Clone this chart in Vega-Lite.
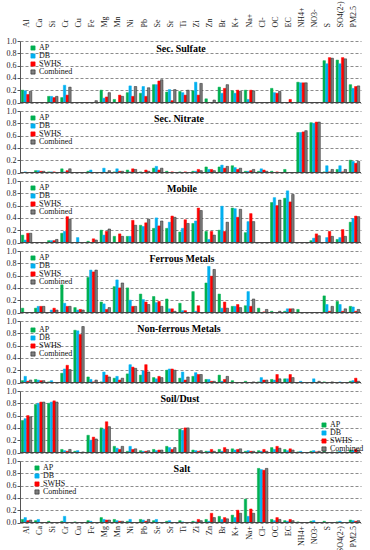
{
"$schema":"https://vega.github.io/schema/vega-lite/v6.json",
"background":"white",
"padding":{"left":6,"top":0,"right":2,"bottom":0},
"bounds":"flush",
"config":{
 "view":{"stroke":null},
 "font":"Liberation Serif",
 "text":{"font":"Liberation Serif","fontSize":10,"fontWeight":"bold","color":"black","baseline":"middle","align":"center"},
 "axisY":{"grid":true,"gridDash":[3,2],"gridColor":"#8c8c8c","domainColor":"#555","tickColor":"#555","tickSize":3,"labelFont":"Liberation Serif","labelFontSize":8,"labelPadding":1,"labelColor":"#222","format":".1f","title":null},
 "axisX":{"labelFont":"Liberation Serif","labelFontSize":8,"labelColor":"#222","ticks":false,"domain":false,"title":null},
 "legend":{"orient":"none","legendX":9,"legendY":3,"symbolType":"square","symbolSize":18,"labelFont":"Liberation Serif","labelFontSize":8,"rowPadding":-1.5,"labelOffset":2,"padding":0,"symbolStrokeWidth":0.6,"labelColor":"#111"}
},
"data":{"values":[
{"p":"Sec. Sulfate","e":"Al","AP":0.20,"DB":0.19,"SWHS":0.13,"Combined":0.18},
{"p":"Sec. Sulfate","e":"Si","AP":0.10,"DB":0.10,"SWHS":0.08,"Combined":0.10},
{"p":"Sec. Sulfate","e":"Cr","AP":0.08,"DB":0.28,"SWHS":0.12,"Combined":0.25},
{"p":"Sec. Sulfate","e":"Fe","AP":0,"DB":0,"SWHS":0,"Combined":0.03},
{"p":"Sec. Sulfate","e":"Mg","AP":0.20,"DB":0.07,"SWHS":0.09,"Combined":0.16},
{"p":"Sec. Sulfate","e":"Mn","AP":0.05,"DB":0,"SWHS":0.12,"Combined":0.10},
{"p":"Sec. Sulfate","e":"Ni","AP":0.16,"DB":0.27,"SWHS":0.10,"Combined":0.26},
{"p":"Sec. Sulfate","e":"Pb","AP":0.15,"DB":0.26,"SWHS":0.10,"Combined":0.24},
{"p":"Sec. Sulfate","e":"Se","AP":0.29,"DB":0.29,"SWHS":0.35,"Combined":0.37},
{"p":"Sec. Sulfate","e":"Sr","AP":0.17,"DB":0.21,"SWHS":0.03,"Combined":0.21},
{"p":"Sec. Sulfate","e":"Ti","AP":0.18,"DB":0.16,"SWHS":0.12,"Combined":0.20},
{"p":"Sec. Sulfate","e":"Zi","AP":0.19,"DB":0.33,"SWHS":0.12,"Combined":0.31},
{"p":"Sec. Sulfate","e":"Zn","AP":0.06,"DB":0,"SWHS":0,"Combined":0.04},
{"p":"Sec. Sulfate","e":"Br","AP":0.25,"DB":0.15,"SWHS":0.23,"Combined":0.29},
{"p":"Sec. Sulfate","e":"K+","AP":0.19,"DB":0.15,"SWHS":0.20,"Combined":0.18},
{"p":"Sec. Sulfate","e":"Na+","AP":0.20,"DB":0.05,"SWHS":0.20,"Combined":0.19},
{"p":"Sec. Sulfate","e":"OC","AP":0.23,"DB":0.16,"SWHS":0.15,"Combined":0.18},
{"p":"Sec. Sulfate","e":"EC","AP":0,"DB":0,"SWHS":0.05,"Combined":0},
{"p":"Sec. Sulfate","e":"NH4+","AP":0.33,"DB":0.32,"SWHS":0.32,"Combined":0.32},
{"p":"Sec. Sulfate","e":"S","AP":0.68,"DB":0.63,"SWHS":0.73,"Combined":0.72},
{"p":"Sec. Sulfate","e":"SO4(2-)","AP":0.69,"DB":0.63,"SWHS":0.73,"Combined":0.71},
{"p":"Sec. Sulfate","e":"PM2.5","AP":0.29,"DB":0.23,"SWHS":0.26,"Combined":0.27},

{"p":"Sec. Nitrate","e":"Al","AP":0,"DB":0.01,"SWHS":0,"Combined":0},
{"p":"Sec. Nitrate","e":"Ca","AP":0.03,"DB":0.03,"SWHS":0.02,"Combined":0.02},
{"p":"Sec. Nitrate","e":"Si","AP":0.01,"DB":0.01,"SWHS":0.01,"Combined":0},
{"p":"Sec. Nitrate","e":"Cr","AP":0.06,"DB":0.01,"SWHS":0.03,"Combined":0.06},
{"p":"Sec. Nitrate","e":"Fe","AP":0.02,"DB":0.04,"SWHS":0,"Combined":0},
{"p":"Sec. Nitrate","e":"Mg","AP":0,"DB":0.07,"SWHS":0,"Combined":0.03},
{"p":"Sec. Nitrate","e":"Mn","AP":0.01,"DB":0.06,"SWHS":0.02,"Combined":0.02},
{"p":"Sec. Nitrate","e":"Ni","AP":0.04,"DB":0.01,"SWHS":0.06,"Combined":0.05},
{"p":"Sec. Nitrate","e":"Pb","AP":0.01,"DB":0,"SWHS":0.04,"Combined":0.02},
{"p":"Sec. Nitrate","e":"Se","AP":0.07,"DB":0.10,"SWHS":0.04,"Combined":0.07},
{"p":"Sec. Nitrate","e":"Sr","AP":0.02,"DB":0,"SWHS":0.01,"Combined":0},
{"p":"Sec. Nitrate","e":"Ti","AP":0.01,"DB":0,"SWHS":0.01,"Combined":0},
{"p":"Sec. Nitrate","e":"Zi","AP":0.02,"DB":0.02,"SWHS":0.05,"Combined":0.03},
{"p":"Sec. Nitrate","e":"Zn","AP":0.09,"DB":0.05,"SWHS":0.05,"Combined":0.03},
{"p":"Sec. Nitrate","e":"Br","AP":0.09,"DB":0.12,"SWHS":0.07,"Combined":0.10},
{"p":"Sec. Nitrate","e":"K+","AP":0.11,"DB":0.08,"SWHS":0.05,"Combined":0.07},
{"p":"Sec. Nitrate","e":"Na+","AP":0.02,"DB":0.02,"SWHS":0.03,"Combined":0.05},
{"p":"Sec. Nitrate","e":"Cl-","AP":0.02,"DB":0.06,"SWHS":0.04,"Combined":0.02},
{"p":"Sec. Nitrate","e":"OC","AP":0.02,"DB":0,"SWHS":0.01,"Combined":0},
{"p":"Sec. Nitrate","e":"EC","AP":0.05,"DB":0,"SWHS":0,"Combined":0},
{"p":"Sec. Nitrate","e":"NH4+","AP":0.65,"DB":0.65,"SWHS":0.66,"Combined":0.68},
{"p":"Sec. Nitrate","e":"NO3-","AP":0.81,"DB":0.80,"SWHS":0.82,"Combined":0.82},
{"p":"Sec. Nitrate","e":"S","AP":0.01,"DB":0.11,"SWHS":0.01,"Combined":0.05},
{"p":"Sec. Nitrate","e":"SO4(2-)","AP":0.05,"DB":0.11,"SWHS":0.01,"Combined":0.05},
{"p":"Sec. Nitrate","e":"PM2.5","AP":0.20,"DB":0.18,"SWHS":0.15,"Combined":0.18},

{"p":"Mobile","e":"Al","AP":0.12,"DB":0.04,"SWHS":0.15,"Combined":0.15},
{"p":"Mobile","e":"Si","AP":0.03,"DB":0.03,"SWHS":0.03,"Combined":0.05},
{"p":"Mobile","e":"Cr","AP":0.15,"DB":0.18,"SWHS":0.42,"Combined":0.38},
{"p":"Mobile","e":"Cu","AP":0,"DB":0.08,"SWHS":0,"Combined":0},
{"p":"Mobile","e":"Fe","AP":0.02,"DB":0,"SWHS":0.06,"Combined":0.04},
{"p":"Mobile","e":"Mg","AP":0.20,"DB":0.12,"SWHS":0.18,"Combined":0.22},
{"p":"Mobile","e":"Mn","AP":0.10,"DB":0,"SWHS":0.14,"Combined":0.10},
{"p":"Mobile","e":"Ni","AP":0.10,"DB":0.10,"SWHS":0.36,"Combined":0.28},
{"p":"Mobile","e":"Pb","AP":0.28,"DB":0.26,"SWHS":0.32,"Combined":0.38},
{"p":"Mobile","e":"Se","AP":0.23,"DB":0.40,"SWHS":0.27,"Combined":0.35},
{"p":"Mobile","e":"Sr","AP":0.23,"DB":0.33,"SWHS":0.43,"Combined":0.41},
{"p":"Mobile","e":"Ti","AP":0.17,"DB":0.23,"SWHS":0.37,"Combined":0.31},
{"p":"Mobile","e":"Zi","AP":0.31,"DB":0.35,"SWHS":0.56,"Combined":0.52},
{"p":"Mobile","e":"Zn","AP":0.18,"DB":0.05,"SWHS":0.18,"Combined":0.12},
{"p":"Mobile","e":"Br","AP":0.20,"DB":0.59,"SWHS":0.18,"Combined":0.33},
{"p":"Mobile","e":"K+","AP":0.56,"DB":0.55,"SWHS":0.41,"Combined":0.54},
{"p":"Mobile","e":"Na+","AP":0.16,"DB":0.34,"SWHS":0.47,"Combined":0.34},
{"p":"Mobile","e":"OC","AP":0.65,"DB":0.73,"SWHS":0.60,"Combined":0.69},
{"p":"Mobile","e":"EC","AP":0.72,"DB":0.84,"SWHS":0.66,"Combined":0.78},
{"p":"Mobile","e":"NO3-","AP":0.03,"DB":0.07,"SWHS":0.14,"Combined":0.11},
{"p":"Mobile","e":"S","AP":0,"DB":0.08,"SWHS":0.18,"Combined":0.10},
{"p":"Mobile","e":"SO4(2-)","AP":0.05,"DB":0.08,"SWHS":0.21,"Combined":0.10},
{"p":"Mobile","e":"PM2.5","AP":0.33,"DB":0.39,"SWHS":0.43,"Combined":0.42},

{"p":"Ferrous  Metals","e":"Al","AP":0.07,"DB":0,"SWHS":0,"Combined":0},
{"p":"Ferrous  Metals","e":"Ca","AP":0.07,"DB":0.10,"SWHS":0.10,"Combined":0.10},
{"p":"Ferrous  Metals","e":"Si","AP":0,"DB":0.04,"SWHS":0.07,"Combined":0.04},
{"p":"Ferrous  Metals","e":"Cr","AP":0.45,"DB":0.15,"SWHS":0.10,"Combined":0.10},
{"p":"Ferrous  Metals","e":"Cu","AP":0.08,"DB":0.04,"SWHS":0.05,"Combined":0.04},
{"p":"Ferrous  Metals","e":"Fe","AP":0.57,"DB":0.69,"SWHS":0.66,"Combined":0.69},
{"p":"Ferrous  Metals","e":"Mg","AP":0.17,"DB":0.14,"SWHS":0.05,"Combined":0.08},
{"p":"Ferrous  Metals","e":"Mn","AP":0.42,"DB":0.53,"SWHS":0.40,"Combined":0.48},
{"p":"Ferrous  Metals","e":"Ni","AP":0.40,"DB":0.20,"SWHS":0.10,"Combined":0.10},
{"p":"Ferrous  Metals","e":"Pb","AP":0.30,"DB":0.21,"SWHS":0.17,"Combined":0.13},
{"p":"Ferrous  Metals","e":"Se","AP":0.26,"DB":0.16,"SWHS":0.18,"Combined":0.10},
{"p":"Ferrous  Metals","e":"Sr","AP":0.22,"DB":0.06,"SWHS":0.06,"Combined":0.02},
{"p":"Ferrous  Metals","e":"Ti","AP":0.15,"DB":0.03,"SWHS":0.03,"Combined":0},
{"p":"Ferrous  Metals","e":"Zi","AP":0.34,"DB":0.02,"SWHS":0.11,"Combined":0},
{"p":"Ferrous  Metals","e":"Zn","AP":0.48,"DB":0.75,"SWHS":0.59,"Combined":0.70},
{"p":"Ferrous  Metals","e":"Br","AP":0.30,"DB":0.07,"SWHS":0.17,"Combined":0.07},
{"p":"Ferrous  Metals","e":"K+","AP":0.10,"DB":0.10,"SWHS":0.13,"Combined":0.08},
{"p":"Ferrous  Metals","e":"Na+","AP":0.11,"DB":0.34,"SWHS":0.10,"Combined":0.22},
{"p":"Ferrous  Metals","e":"Cl-","AP":0.07,"DB":0,"SWHS":0.01,"Combined":0.05},
{"p":"Ferrous  Metals","e":"OC","AP":0.02,"DB":0,"SWHS":0,"Combined":0.02},
{"p":"Ferrous  Metals","e":"EC","AP":0.02,"DB":0.06,"SWHS":0.06,"Combined":0.06},
{"p":"Ferrous  Metals","e":"NH4+","AP":0.05,"DB":0,"SWHS":0,"Combined":0},
{"p":"Ferrous  Metals","e":"S","AP":0.27,"DB":0.13,"SWHS":0.02,"Combined":0.10},
{"p":"Ferrous  Metals","e":"SO4(2-)","AP":0.18,"DB":0.13,"SWHS":0.02,"Combined":0.06},
{"p":"Ferrous  Metals","e":"PM2.5","AP":0.10,"DB":0.09,"SWHS":0.02,"Combined":0.05},

{"p":"Non-ferrous Metals","e":"Al","AP":0.03,"DB":0.10,"SWHS":0.02,"Combined":0.04},
{"p":"Non-ferrous Metals","e":"Ca","AP":0.05,"DB":0.04,"SWHS":0.03,"Combined":0.03},
{"p":"Non-ferrous Metals","e":"Si","AP":0.01,"DB":0.03,"SWHS":0,"Combined":0},
{"p":"Non-ferrous Metals","e":"Cr","AP":0.15,"DB":0.22,"SWHS":0.28,"Combined":0.21},
{"p":"Non-ferrous Metals","e":"Cu","AP":0.85,"DB":0.84,"SWHS":0.78,"Combined":0.91},
{"p":"Non-ferrous Metals","e":"Fe","AP":0.09,"DB":0.05,"SWHS":0.01,"Combined":0.04},
{"p":"Non-ferrous Metals","e":"Mg","AP":0.01,"DB":0.17,"SWHS":0.12,"Combined":0.09},
{"p":"Non-ferrous Metals","e":"Mn","AP":0.07,"DB":0.10,"SWHS":0.04,"Combined":0.07},
{"p":"Non-ferrous Metals","e":"Ni","AP":0.14,"DB":0.29,"SWHS":0.25,"Combined":0.23},
{"p":"Non-ferrous Metals","e":"Pb","AP":0.12,"DB":0.19,"SWHS":0.29,"Combined":0.17},
{"p":"Non-ferrous Metals","e":"Se","AP":0.08,"DB":0.06,"SWHS":0.10,"Combined":0.08},
{"p":"Non-ferrous Metals","e":"Sr","AP":0.20,"DB":0.22,"SWHS":0.22,"Combined":0.20},
{"p":"Non-ferrous Metals","e":"Ti","AP":0.07,"DB":0.17,"SWHS":0.04,"Combined":0.09},
{"p":"Non-ferrous Metals","e":"Zi","AP":0.10,"DB":0.16,"SWHS":0.13,"Combined":0.13},
{"p":"Non-ferrous Metals","e":"Zn","AP":0.05,"DB":0.05,"SWHS":0.02,"Combined":0.02},
{"p":"Non-ferrous Metals","e":"Br","AP":0.12,"DB":0.02,"SWHS":0.05,"Combined":0.10},
{"p":"Non-ferrous Metals","e":"K+","AP":0.03,"DB":0,"SWHS":0,"Combined":0},
{"p":"Non-ferrous Metals","e":"Na+","AP":0.02,"DB":0,"SWHS":0,"Combined":0.01},
{"p":"Non-ferrous Metals","e":"Cl-","AP":0.01,"DB":0.08,"SWHS":0.04,"Combined":0.04},
{"p":"Non-ferrous Metals","e":"OC","AP":0.05,"DB":0.04,"SWHS":0.13,"Combined":0.06},
{"p":"Non-ferrous Metals","e":"EC","AP":0.06,"DB":0.06,"SWHS":0.13,"Combined":0.08},
{"p":"Non-ferrous Metals","e":"NH4+","AP":0,"DB":0.02,"SWHS":0,"Combined":0},
{"p":"Non-ferrous Metals","e":"NO3-","AP":0,"DB":0.06,"SWHS":0,"Combined":0.02},
{"p":"Non-ferrous Metals","e":"S","AP":0.01,"DB":0,"SWHS":0,"Combined":0.01},
{"p":"Non-ferrous Metals","e":"SO4(2-)","AP":0,"DB":0.01,"SWHS":0,"Combined":0},
{"p":"Non-ferrous Metals","e":"PM2.5","AP":0.02,"DB":0.03,"SWHS":0.07,"Combined":0.02},

{"p":"Soil/Dust","e":"Al","AP":0.52,"DB":0.55,"SWHS":0.60,"Combined":0.58},
{"p":"Soil/Dust","e":"Ca","AP":0.78,"DB":0.80,"SWHS":0.82,"Combined":0.82},
{"p":"Soil/Dust","e":"Si","AP":0.80,"DB":0.82,"SWHS":0.84,"Combined":0.82},
{"p":"Soil/Dust","e":"Cr","AP":0.05,"DB":0.03,"SWHS":0.02,"Combined":0.05},
{"p":"Soil/Dust","e":"Cu","AP":0.02,"DB":0.03,"SWHS":0,"Combined":0.01},
{"p":"Soil/Dust","e":"Fe","AP":0.28,"DB":0.20,"SWHS":0.25,"Combined":0.22},
{"p":"Soil/Dust","e":"Mg","AP":0.40,"DB":0.38,"SWHS":0.50,"Combined":0.42},
{"p":"Soil/Dust","e":"Mn","AP":0.10,"DB":0.07,"SWHS":0.05,"Combined":0.10},
{"p":"Soil/Dust","e":"Ni","AP":0.02,"DB":0.10,"SWHS":0.05,"Combined":0.06},
{"p":"Soil/Dust","e":"Pb","AP":0.03,"DB":0.02,"SWHS":0.02,"Combined":0.03},
{"p":"Soil/Dust","e":"Se","AP":0.05,"DB":0.03,"SWHS":0.04,"Combined":0.04},
{"p":"Soil/Dust","e":"Sr","AP":0.10,"DB":0.08,"SWHS":0.05,"Combined":0.08},
{"p":"Soil/Dust","e":"Ti","AP":0.38,"DB":0.36,"SWHS":0.40,"Combined":0.40},
{"p":"Soil/Dust","e":"Zi","AP":0.04,"DB":0.03,"SWHS":0.02,"Combined":0.03},
{"p":"Soil/Dust","e":"Zn","AP":0.02,"DB":0.02,"SWHS":0.05,"Combined":0.02},
{"p":"Soil/Dust","e":"Br","AP":0.05,"DB":0.02,"SWHS":0.08,"Combined":0.05},
{"p":"Soil/Dust","e":"K+","AP":0.06,"DB":0.04,"SWHS":0.05,"Combined":0.06},
{"p":"Soil/Dust","e":"Na+","AP":0.02,"DB":0.03,"SWHS":0.02,"Combined":0.02},
{"p":"Soil/Dust","e":"Cl-","AP":0.03,"DB":0.02,"SWHS":0.05,"Combined":0.02},
{"p":"Soil/Dust","e":"OC","AP":0.08,"DB":0.05,"SWHS":0.10,"Combined":0.07},
{"p":"Soil/Dust","e":"EC","AP":0.05,"DB":0.03,"SWHS":0.06,"Combined":0.04},
{"p":"Soil/Dust","e":"NH4+","AP":0.01,"DB":0.02,"SWHS":0,"Combined":0},
{"p":"Soil/Dust","e":"NO3-","AP":0.02,"DB":0.03,"SWHS":0.01,"Combined":0.02},
{"p":"Soil/Dust","e":"S","AP":0.02,"DB":0,"SWHS":0,"Combined":0.01},
{"p":"Soil/Dust","e":"SO4(2-)","AP":0.01,"DB":0.02,"SWHS":0,"Combined":0.01},
{"p":"Soil/Dust","e":"PM2.5","AP":0.04,"DB":0.03,"SWHS":0.05,"Combined":0.04},

{"p":"Salt","e":"Al","AP":0.05,"DB":0.08,"SWHS":0.03,"Combined":0.04},
{"p":"Salt","e":"Ca","AP":0.03,"DB":0.05,"SWHS":0,"Combined":0},
{"p":"Salt","e":"Si","AP":0.02,"DB":0,"SWHS":0,"Combined":0},
{"p":"Salt","e":"Cr","AP":0.02,"DB":0.10,"SWHS":0,"Combined":0},
{"p":"Salt","e":"Cu","AP":0.01,"DB":0,"SWHS":0,"Combined":0},
{"p":"Salt","e":"Fe","AP":0.03,"DB":0.02,"SWHS":0,"Combined":0},
{"p":"Salt","e":"Mg","AP":0.08,"DB":0.05,"SWHS":0.04,"Combined":0.04},
{"p":"Salt","e":"Mn","AP":0.05,"DB":0.03,"SWHS":0.02,"Combined":0.02},
{"p":"Salt","e":"Ni","AP":0.02,"DB":0.05,"SWHS":0,"Combined":0},
{"p":"Salt","e":"Pb","AP":0.05,"DB":0.04,"SWHS":0.02,"Combined":0.05},
{"p":"Salt","e":"Se","AP":0.03,"DB":0.05,"SWHS":0,"Combined":0},
{"p":"Salt","e":"Sr","AP":0.02,"DB":0.03,"SWHS":0,"Combined":0},
{"p":"Salt","e":"Ti","AP":0.03,"DB":0.01,"SWHS":0,"Combined":0},
{"p":"Salt","e":"Zi","AP":0.02,"DB":0.01,"SWHS":0.05,"Combined":0.03},
{"p":"Salt","e":"Zn","AP":0.05,"DB":0.02,"SWHS":0.15,"Combined":0.08},
{"p":"Salt","e":"Br","AP":0.10,"DB":0.05,"SWHS":0.08,"Combined":0.06},
{"p":"Salt","e":"K+","AP":0.12,"DB":0.08,"SWHS":0.20,"Combined":0.15},
{"p":"Salt","e":"Na+","AP":0.38,"DB":0.10,"SWHS":0.22,"Combined":0.15},
{"p":"Salt","e":"Cl-","AP":0.88,"DB":0.86,"SWHS":0.85,"Combined":0.88},
{"p":"Salt","e":"OC","AP":0.05,"DB":0.03,"SWHS":0.08,"Combined":0.05},
{"p":"Salt","e":"EC","AP":0.03,"DB":0.02,"SWHS":0.05,"Combined":0.03},
{"p":"Salt","e":"NH4+","AP":0.01,"DB":0,"SWHS":0,"Combined":0},
{"p":"Salt","e":"NO3-","AP":0.02,"DB":0.03,"SWHS":0,"Combined":0},
{"p":"Salt","e":"S","AP":0.02,"DB":0,"SWHS":0,"Combined":0},
{"p":"Salt","e":"SO4(2-)","AP":0.01,"DB":0.02,"SWHS":0,"Combined":0},
{"p":"Salt","e":"PM2.5","AP":0.04,"DB":0.03,"SWHS":0.02,"Combined":0.03}
]},
"spacing":8,
"resolve":{"legend":{"color":"independent","stroke":"independent"}},
"vconcat":[
{"width":341,"height":61.5,"layer":[
 {"transform":[{"filter":"datum.p === 'Sec. Sulfate'"},{"fold":["AP","DB","SWHS","Combined"],"as":["src","v"]}],
  "mark":{"type":"bar","strokeWidth":0.5},
  "encoding":{
   "x":{"field":"e","type":"nominal","scale":{"domain":["Al","Ca","Si","Cr","Cu","Fe","Mg","Mn","Ni","Pb","Se","Sr","Ti","Zi","Zn","Br","K+","Na+","Cl-","OC","EC","NH4+","NO3-","S","SO4(2-)","PM2.5"],"paddingInner":0.2,"paddingOuter":0.1},"axis":{"orient":"top","labelAngle":-90,"labelPadding":14}},
   "xOffset":{"field":"src","scale":{"domain":["AP","DB","SWHS","Combined"],"paddingInner":0.08}},
   "y":{"field":"v","type":"quantitative","scale":{"domain":[0,1]},"axis":{"values":[0,0.2,0.4,0.6,0.8,1.0],"labelOverlap":false,"labelBound":false,"labelFlush":false}},
   "color":{"field":"src","scale":{"domain":["AP","DB","SWHS","Combined"],"range":["#00b050","#00b0f0","#ff0000","#7f7f7f"]},"legend":{"title":null}},
   "stroke":{"field":"src","scale":{"domain":["AP","DB","SWHS","Combined"],"range":["#00b050","#00b0f0","#ff0000","#222222"]},"legend":{"title":null}}
  }},
 {"data":{"values":[{"z":0}]},"mark":{"type":"rule","color":"#444","strokeWidth":1},"encoding":{"y":{"field":"z","type":"quantitative","axis":{"values":[0,0.2,0.4,0.6,0.8,1.0],"labelOverlap":false,"labelBound":false,"labelFlush":false}}}},
 {"data":{"values":[{"t":"Sec. Sulfate"}]},"mark":{"type":"text","dx":-3},"encoding":{"text":{"field":"t"},"x":{"datum":"Ti","axis":{"orient":"top","labelAngle":-90,"labelPadding":14}},"y":{"datum":0.87,"axis":{"values":[0,0.2,0.4,0.6,0.8,1.0],"labelOverlap":false,"labelBound":false,"labelFlush":false}}}}
]},
{"width":341,"height":61.5,"layer":[
 {"transform":[{"filter":"datum.p === 'Sec. Nitrate'"},{"fold":["AP","DB","SWHS","Combined"],"as":["src","v"]}],
  "mark":{"type":"bar","strokeWidth":0.5},
  "encoding":{
   "x":{"field":"e","type":"nominal","scale":{"domain":["Al","Ca","Si","Cr","Cu","Fe","Mg","Mn","Ni","Pb","Se","Sr","Ti","Zi","Zn","Br","K+","Na+","Cl-","OC","EC","NH4+","NO3-","S","SO4(2-)","PM2.5"],"paddingInner":0.2,"paddingOuter":0.1},"axis":null},
   "xOffset":{"field":"src","scale":{"domain":["AP","DB","SWHS","Combined"],"paddingInner":0.08}},
   "y":{"field":"v","type":"quantitative","scale":{"domain":[0,1]},"axis":{"values":[0,0.2,0.4,0.6,0.8,1.0],"labelOverlap":false,"labelBound":false,"labelFlush":false}},
   "color":{"field":"src","scale":{"domain":["AP","DB","SWHS","Combined"],"range":["#00b050","#00b0f0","#ff0000","#7f7f7f"]},"legend":{"title":null}},
   "stroke":{"field":"src","scale":{"domain":["AP","DB","SWHS","Combined"],"range":["#00b050","#00b0f0","#ff0000","#222222"]},"legend":{"title":null}}
  }},
 {"data":{"values":[{"z":0}]},"mark":{"type":"rule","color":"#444","strokeWidth":1},"encoding":{"y":{"field":"z","type":"quantitative","axis":{"values":[0,0.2,0.4,0.6,0.8,1.0],"labelOverlap":false,"labelBound":false,"labelFlush":false}}}},
 {"data":{"values":[{"t":"Sec. Nitrate"}]},"mark":{"type":"text","dx":-5},"encoding":{"text":{"field":"t"},"x":{"datum":"Ti","axis":null},"y":{"datum":0.87,"axis":{"values":[0,0.2,0.4,0.6,0.8,1.0],"labelOverlap":false,"labelBound":false,"labelFlush":false}}}}
]},
{"width":341,"height":61.5,"layer":[
 {"transform":[{"filter":"datum.p === 'Mobile'"},{"fold":["AP","DB","SWHS","Combined"],"as":["src","v"]}],
  "mark":{"type":"bar","strokeWidth":0.5},
  "encoding":{
   "x":{"field":"e","type":"nominal","scale":{"domain":["Al","Ca","Si","Cr","Cu","Fe","Mg","Mn","Ni","Pb","Se","Sr","Ti","Zi","Zn","Br","K+","Na+","Cl-","OC","EC","NH4+","NO3-","S","SO4(2-)","PM2.5"],"paddingInner":0.2,"paddingOuter":0.1},"axis":null},
   "xOffset":{"field":"src","scale":{"domain":["AP","DB","SWHS","Combined"],"paddingInner":0.08}},
   "y":{"field":"v","type":"quantitative","scale":{"domain":[0,1]},"axis":{"values":[0,0.2,0.4,0.6,0.8,1.0],"labelOverlap":false,"labelBound":false,"labelFlush":false}},
   "color":{"field":"src","scale":{"domain":["AP","DB","SWHS","Combined"],"range":["#00b050","#00b0f0","#ff0000","#7f7f7f"]},"legend":{"title":null}},
   "stroke":{"field":"src","scale":{"domain":["AP","DB","SWHS","Combined"],"range":["#00b050","#00b0f0","#ff0000","#222222"]},"legend":{"title":null}}
  }},
 {"data":{"values":[{"z":0}]},"mark":{"type":"rule","color":"#444","strokeWidth":1},"encoding":{"y":{"field":"z","type":"quantitative","axis":{"values":[0,0.2,0.4,0.6,0.8,1.0],"labelOverlap":false,"labelBound":false,"labelFlush":false}}}},
 {"data":{"values":[{"t":"Mobile"}]},"mark":{"type":"text","dx":-2},"encoding":{"text":{"field":"t"},"x":{"datum":"Ti","axis":null},"y":{"datum":0.87,"axis":{"values":[0,0.2,0.4,0.6,0.8,1.0],"labelOverlap":false,"labelBound":false,"labelFlush":false}}}}
]},
{"width":341,"height":61.5,"layer":[
 {"transform":[{"filter":"datum.p === 'Ferrous  Metals'"},{"fold":["AP","DB","SWHS","Combined"],"as":["src","v"]}],
  "mark":{"type":"bar","strokeWidth":0.5},
  "encoding":{
   "x":{"field":"e","type":"nominal","scale":{"domain":["Al","Ca","Si","Cr","Cu","Fe","Mg","Mn","Ni","Pb","Se","Sr","Ti","Zi","Zn","Br","K+","Na+","Cl-","OC","EC","NH4+","NO3-","S","SO4(2-)","PM2.5"],"paddingInner":0.2,"paddingOuter":0.1},"axis":null},
   "xOffset":{"field":"src","scale":{"domain":["AP","DB","SWHS","Combined"],"paddingInner":0.08}},
   "y":{"field":"v","type":"quantitative","scale":{"domain":[0,1]},"axis":{"values":[0,0.2,0.4,0.6,0.8,1.0],"labelOverlap":false,"labelBound":false,"labelFlush":false}},
   "color":{"field":"src","scale":{"domain":["AP","DB","SWHS","Combined"],"range":["#00b050","#00b0f0","#ff0000","#7f7f7f"]},"legend":{"title":null}},
   "stroke":{"field":"src","scale":{"domain":["AP","DB","SWHS","Combined"],"range":["#00b050","#00b0f0","#ff0000","#222222"]},"legend":{"title":null}}
  }},
 {"data":{"values":[{"z":0}]},"mark":{"type":"rule","color":"#444","strokeWidth":1},"encoding":{"y":{"field":"z","type":"quantitative","axis":{"values":[0,0.2,0.4,0.6,0.8,1.0],"labelOverlap":false,"labelBound":false,"labelFlush":false}}}},
 {"data":{"values":[{"t":"Ferrous  Metals"}]},"mark":{"type":"text","dx":-2},"encoding":{"text":{"field":"t"},"x":{"datum":"Ti","axis":null},"y":{"datum":0.87,"axis":{"values":[0,0.2,0.4,0.6,0.8,1.0],"labelOverlap":false,"labelBound":false,"labelFlush":false}}}}
]},
{"width":341,"height":61.5,"layer":[
 {"transform":[{"filter":"datum.p === 'Non-ferrous Metals'"},{"fold":["AP","DB","SWHS","Combined"],"as":["src","v"]}],
  "mark":{"type":"bar","strokeWidth":0.5},
  "encoding":{
   "x":{"field":"e","type":"nominal","scale":{"domain":["Al","Ca","Si","Cr","Cu","Fe","Mg","Mn","Ni","Pb","Se","Sr","Ti","Zi","Zn","Br","K+","Na+","Cl-","OC","EC","NH4+","NO3-","S","SO4(2-)","PM2.5"],"paddingInner":0.2,"paddingOuter":0.1},"axis":null},
   "xOffset":{"field":"src","scale":{"domain":["AP","DB","SWHS","Combined"],"paddingInner":0.08}},
   "y":{"field":"v","type":"quantitative","scale":{"domain":[0,1]},"axis":{"values":[0,0.2,0.4,0.6,0.8,1.0],"labelOverlap":false,"labelBound":false,"labelFlush":false}},
   "color":{"field":"src","scale":{"domain":["AP","DB","SWHS","Combined"],"range":["#00b050","#00b0f0","#ff0000","#7f7f7f"]},"legend":{"title":null,"legendY":5}},
   "stroke":{"field":"src","scale":{"domain":["AP","DB","SWHS","Combined"],"range":["#00b050","#00b0f0","#ff0000","#222222"]},"legend":{"title":null,"legendY":5}}
  }},
 {"data":{"values":[{"z":0}]},"mark":{"type":"rule","color":"#444","strokeWidth":1},"encoding":{"y":{"field":"z","type":"quantitative","axis":{"values":[0,0.2,0.4,0.6,0.8,1.0],"labelOverlap":false,"labelBound":false,"labelFlush":false}}}},
 {"data":{"values":[{"t":"Non-ferrous Metals"}]},"mark":{"type":"text","dx":-5},"encoding":{"text":{"field":"t"},"x":{"datum":"Ti","axis":null},"y":{"datum":0.87,"axis":{"values":[0,0.2,0.4,0.6,0.8,1.0],"labelOverlap":false,"labelBound":false,"labelFlush":false}}}}
]},
{"width":341,"height":61.5,"layer":[
 {"transform":[{"filter":"datum.p === 'Soil/Dust'"},{"fold":["AP","DB","SWHS","Combined"],"as":["src","v"]}],
  "mark":{"type":"bar","strokeWidth":0.5},
  "encoding":{
   "x":{"field":"e","type":"nominal","scale":{"domain":["Al","Ca","Si","Cr","Cu","Fe","Mg","Mn","Ni","Pb","Se","Sr","Ti","Zi","Zn","Br","K+","Na+","Cl-","OC","EC","NH4+","NO3-","S","SO4(2-)","PM2.5"],"paddingInner":0.2,"paddingOuter":0.1},"axis":null},
   "xOffset":{"field":"src","scale":{"domain":["AP","DB","SWHS","Combined"],"paddingInner":0.08}},
   "y":{"field":"v","type":"quantitative","scale":{"domain":[0,1]},"axis":{"values":[0,0.2,0.4,0.6,0.8,1.0],"labelOverlap":false,"labelBound":false,"labelFlush":false}},
   "color":{"field":"src","scale":{"domain":["AP","DB","SWHS","Combined"],"range":["#00b050","#00b0f0","#ff0000","#7f7f7f"]},"legend":{"title":null,"legendX":300,"legendY":30}},
   "stroke":{"field":"src","scale":{"domain":["AP","DB","SWHS","Combined"],"range":["#00b050","#00b0f0","#ff0000","#222222"]},"legend":{"title":null,"legendX":300,"legendY":30}}
  }},
 {"data":{"values":[{"z":0}]},"mark":{"type":"rule","color":"#444","strokeWidth":1},"encoding":{"y":{"field":"z","type":"quantitative","axis":{"values":[0,0.2,0.4,0.6,0.8,1.0],"labelOverlap":false,"labelBound":false,"labelFlush":false}}}},
 {"data":{"values":[{"t":"Soil/Dust"}]},"mark":{"type":"text","dx":-4},"encoding":{"text":{"field":"t"},"x":{"datum":"Ti","axis":null},"y":{"datum":0.87,"axis":{"values":[0,0.2,0.4,0.6,0.8,1.0],"labelOverlap":false,"labelBound":false,"labelFlush":false}}}}
]},
{"width":341,"height":61.5,"layer":[
 {"transform":[{"filter":"datum.p === 'Salt'"},{"fold":["AP","DB","SWHS","Combined"],"as":["src","v"]}],
  "mark":{"type":"bar","strokeWidth":0.5},
  "encoding":{
   "x":{"field":"e","type":"nominal","scale":{"domain":["Al","Ca","Si","Cr","Cu","Fe","Mg","Mn","Ni","Pb","Se","Sr","Ti","Zi","Zn","Br","K+","Na+","Cl-","OC","EC","NH4+","NO3-","S","SO4(2-)","PM2.5"],"paddingInner":0.2,"paddingOuter":0.1},"axis":{"orient":"bottom","labelAngle":-90,"labelPadding":3}},
   "xOffset":{"field":"src","scale":{"domain":["AP","DB","SWHS","Combined"],"paddingInner":0.08}},
   "y":{"field":"v","type":"quantitative","scale":{"domain":[0,1]},"axis":{"values":[0,0.2,0.4,0.6,0.8,1.0],"labelOverlap":false,"labelBound":false,"labelFlush":false}},
   "color":{"field":"src","scale":{"domain":["AP","DB","SWHS","Combined"],"range":["#00b050","#00b0f0","#ff0000","#7f7f7f"]},"legend":{"title":null,"legendX":13,"legendY":3}},
   "stroke":{"field":"src","scale":{"domain":["AP","DB","SWHS","Combined"],"range":["#00b050","#00b0f0","#ff0000","#222222"]},"legend":{"title":null,"legendX":13,"legendY":3}}
  }},
 {"data":{"values":[{"z":0}]},"mark":{"type":"rule","color":"#444","strokeWidth":1},"encoding":{"y":{"field":"z","type":"quantitative","axis":{"values":[0,0.2,0.4,0.6,0.8,1.0],"labelOverlap":false,"labelBound":false,"labelFlush":false}}}},
 {"data":{"values":[{"t":"Salt"}]},"mark":{"type":"text","dx":-2},"encoding":{"text":{"field":"t"},"x":{"datum":"Ti","axis":{"orient":"bottom","labelAngle":-90,"labelPadding":3}},"y":{"datum":0.87,"axis":{"values":[0,0.2,0.4,0.6,0.8,1.0],"labelOverlap":false,"labelBound":false,"labelFlush":false}}}}
]}
]
}
